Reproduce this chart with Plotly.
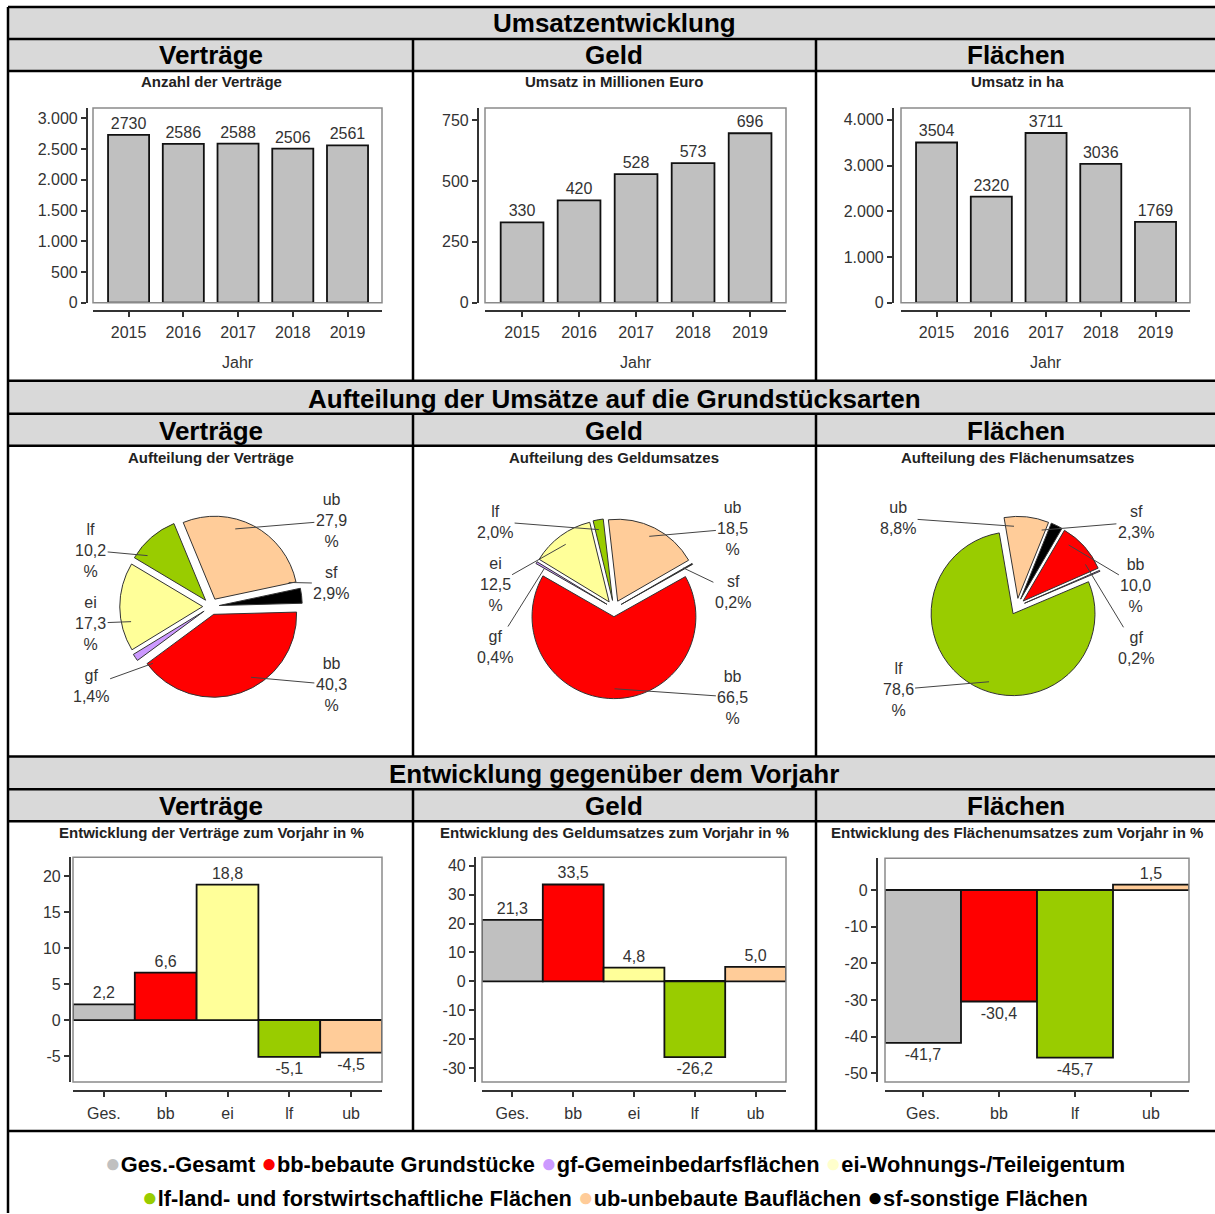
import math
import plotly.graph_objects as go

W = 1215
H = 1214          # reference coordinate height
HP = 1222         # page height (screenshot squeezes vertically by ~H/HP)
SY = HP / H
FONT = "Liberation Sans, Arial, sans-serif"

# ---------------- data ----------------
years = ["2015", "2016", "2017", "2018", "2019"]
vertraege = [2730, 2586, 2588, 2506, 2561]
geld = [330, 420, 528, 573, 696]
flaechen = [3504, 2320, 3711, 3036, 1769]

ticks_vertraege = [0, 500, 1000, 1500, 2000, 2500, 3000]
ticks_geld = [0, 250, 500, 750]
ticks_flaechen = [0, 1000, 2000, 3000, 4000]

pie_labels_v = ["sf", "ub", "lf", "ei", "gf", "bb"]
pie_values_v = [2.9, 27.9, 10.2, 17.3, 1.4, 40.3]
pie_labels_g = ["sf", "ub", "lf", "ei", "gf", "bb"]
pie_values_g = [0.2, 18.5, 2.0, 12.5, 0.4, 66.5]
pie_labels_f = ["sf", "ub", "lf", "gf", "bb"]
pie_values_f = [2.3, 8.8, 78.6, 0.2, 10.0]

chg_cats_v = ["Ges.", "bb", "ei", "lf", "ub"]
chg_v = [2.2, 6.6, 18.8, -5.1, -4.5]
chg_cats_g = ["Ges.", "bb", "ei", "lf", "ub"]
chg_g = [21.3, 33.5, 4.8, -26.2, 5.0]
chg_cats_f = ["Ges.", "bb", "lf", "ub"]
chg_f = [-41.7, -30.4, -45.7, 1.5]

ticks_chg_v = [-5, 0, 5, 10, 15, 20]
ticks_chg_g = [-30, -20, -10, 0, 10, 20, 30, 40]
ticks_chg_f = [-50, -40, -30, -20, -10, 0]

colors = {"Ges.": "#c0c0c0", "bb": "#ff0000", "gf": "#cc99ff", "ei": "#ffff99",
          "lf": "#99cc00", "ub": "#ffcc99", "sf": "#000000"}
legend_row1 = [("Ges.", "Ges.-Gesamt"), ("bb", "bb-bebaute Grundstücke"),
               ("gf", "gf-Gemeinbedarfsflächen"), ("ei", "ei-Wohnungs-/Teileigentum")]
legend_row2 = [("lf", "lf-land- und forstwirtschaftliche Flächen"),
               ("ub", "ub-unbebaute Bauflächen"), ("sf", "sf-sonstige Flächen")]
legend_dot = dict(colors, ei="#ffffcc")

# ---------------- helpers ----------------
def fx(x):
    return x / W


def fy(y):
    return 1 - y / H


def de(v):
    return f"{v:.1f}".replace(".", ",")


fig = go.Figure()
annotations = []
shapes = []
axis_n = [0]


def add_bars(cats, vals, texts, box, y_axis_x, x_axis_y, yrange, xrange,
             yticks, ytext, width, zeroline, cols, standoff):
    axis_n[0] += 1
    n = axis_n[0]
    xa = "x" if n == 1 else f"x{n}"
    ya = "y" if n == 1 else f"y{n}"
    fig.add_trace(go.Bar(
        x=cats, y=vals, text=texts, textposition="outside", cliponaxis=False,
        constraintext="none", textfont=dict(size=16, color="#333", family=FONT),
        marker=dict(color=cols, line=dict(color="#111", width=1.8)),
        width=width, xaxis=xa, yaxis=ya, hoverinfo="skip"))
    x0, y0, x1, y1 = box
    xname = "xaxis" if n == 1 else f"xaxis{n}"
    yname = "yaxis" if n == 1 else f"yaxis{n}"
    fig.update_layout({
        xname: dict(domain=[fx(x0), fx(x1)], anchor="free", position=fy(x_axis_y),
                    range=xrange, type="category", showline=True, linecolor="#333",
                    linewidth=2.2, ticks="outside", ticklen=5, tickwidth=2,
                    tickcolor="#333", tickfont=dict(size=16, color="#333", family=FONT),
                    showgrid=False, zeroline=False, fixedrange=True,
                    ticklabelstandoff=standoff),
        yname: dict(domain=[fy(y1), fy(y0)], anchor="free", position=fx(y_axis_x),
                    range=yrange, tickvals=yticks, ticktext=ytext, showline=True,
                    linecolor="#333", linewidth=2.2, ticks="outside", ticklen=5,
                    tickwidth=2, tickcolor="#333",
                    tickfont=dict(size=16, color="#333", family=FONT),
                    showgrid=False, zeroline=zeroline, zerolinecolor="#111",
                    zerolinewidth=1.8, fixedrange=True),
    })
    shapes.append(dict(type="rect", xref=f"{xa} domain", yref=f"{ya} domain",
                       x0=0, x1=1, y0=0, y1=1, line=dict(color="#8a8a8a", width=1.5),
                       layer="above"))


def add_pie(labels, values, cx, cy, r, pull, rotation):
    s = r * (1 + pull)
    fig.add_trace(go.Pie(
        labels=labels, values=values, sort=False, direction="counterclockwise",
        rotation=rotation, pull=pull, textinfo="none", hoverinfo="skip",
        marker=dict(colors=[colors[l] for l in labels], line=dict(color="#333", width=1)),
        domain=dict(x=[fx(cx - s), fx(cx + s)], y=[fy(cy + s), fy(cy - s)])))
    theta0 = 90 - rotation
    tot = sum(values)
    d = pull * r
    items = []
    cum = 0
    for lab, v in zip(labels, values):
        a0 = theta0 + 360 * cum / tot
        cum += v
        a1 = theta0 + 360 * cum / tot
        am = math.radians((a0 + a1) / 2)
        c, sn = math.cos(am), math.sin(am)
        hx = cx + (d + 0.88 * r) * c
        hy = cy - (d + 0.88 * r) * sn
        side = 1 if c >= 0 else -1
        big = v >= 10
        txt = f"{lab}<br>{de(v)}<br>%" if big else f"{lab}<br>{de(v)}%"
        items.append(dict(hx=hx, hy=hy, lx=cx + side * 1.45 * r, ly=cy - 1.08 * r * sn,
                          side=side, n=3 if big else 2, txt=txt))
    for side in (1, -1):
        grp = sorted([it for it in items if it["side"] == side], key=lambda it: it["ly"])
        for i in range(1, len(grp)):
            need = (grp[i - 1]["n"] + grp[i]["n"]) * 17 / 2 + 20
            if grp[i]["ly"] < grp[i - 1]["ly"] + need:
                grp[i]["ly"] = grp[i - 1]["ly"] + need
    for it in items:
        annotations.append(dict(
            x=fx(it["hx"]), y=fy(it["hy"]), xref="paper", yref="paper",
            ax=it["lx"] - it["hx"], ay=(it["ly"] - it["hy"]) * SY, text=it["txt"],
            showarrow=True, arrowhead=0, arrowwidth=1, arrowcolor="#444",
            standoff=0, align="center", font=dict(size=16, color="#333", family=FONT)))


def text(x, y, t, size, bold=True, color="#000"):
    annotations.append(dict(x=fx(x), y=fy(y), xref="paper", yref="paper",
                            text=f"<b>{t}</b>" if bold else t, showarrow=False,
                            xanchor="center", yanchor="middle",
                            font=dict(size=size, color=color, family=FONT)))


# ---------------- top bar charts ----------------
top_xrange = [-0.65, 4.63]
add_bars(years, vertraege, [str(v) for v in vertraege], (93, 108, 382, 303), 87, 311,
         [0, 3170], top_xrange, ticks_vertraege,
         [f"{v:,}".replace(",", ".") for v in ticks_vertraege], 0.75, False,
         colors["Ges."], 2)
add_bars(years, geld, [str(v) for v in geld], (485, 108, 786, 303), 478, 311,
         [0, 800], top_xrange, ticks_geld,
         [f"{v:,}".replace(",", ".") for v in ticks_geld], 0.75, False, colors["Ges."], 2)
add_bars(years, flaechen, [str(v) for v in flaechen], (901, 108, 1190, 303), 893, 311,
         [0, 4260], top_xrange, ticks_flaechen,
         [f"{v:,}".replace(",", ".") for v in ticks_flaechen], 0.75, False,
         colors["Ges."], 2)

# ---------------- bottom bar charts ----------------
add_bars(chg_cats_v, chg_v, [de(v) for v in chg_v], (73, 858, 382, 1083), 70, 1092,
         [-8.6, 22.6], [-0.5, 4.5], ticks_chg_v, [str(v) for v in ticks_chg_v], 1.0,
         True, [colors[c] for c in chg_cats_v], 3)
add_bars(chg_cats_g, chg_g, [de(v) for v in chg_g], (482, 858, 786, 1083), 475, 1092,
         [-34.8, 42.9], [-0.5, 4.5], ticks_chg_g, [str(v) for v in ticks_chg_g], 1.0,
         True, [colors[c] for c in chg_cats_g], 3)
add_bars(chg_cats_f, chg_f, [de(v) for v in chg_f], (885, 859, 1189, 1083), 877, 1092,
         [-52.4, 8.7], [-0.5, 3.5], ticks_chg_f, [str(v) for v in ticks_chg_f], 1.0,
         True, [colors[c] for c in chg_cats_f], 3)

# ---------------- pies ----------------
add_pie(pie_labels_v, pie_values_v, 211, 607, 83, 0.1, 78)
add_pie(pie_labels_g, pie_values_g, 614, 609, 82, 0.1, 60)
add_pie(pie_labels_f, pie_values_f, 1017, 607, 82, 0.1, 22)

# ---------------- table frame ----------------
for (ya, yb) in [(7, 39), (39, 71), (381, 414), (414, 446), (757, 790), (790, 822)]:
    shapes.append(dict(type="rect", xref="paper", yref="paper", x0=fx(8), x1=1.0,
                       y0=fy(yb), y1=fy(ya), fillcolor="#d9d9d9", line=dict(width=0),
                       layer="below"))
for yl in [7, 39, 71, 381, 414, 446, 757, 790, 822, 1132]:
    shapes.append(dict(type="line", xref="paper", yref="paper", x0=fx(8), x1=1.0,
                       y0=fy(yl), y1=fy(yl), line=dict(color="#000", width=2.5)))
shapes.append(dict(type="line", xref="paper", yref="paper", x0=fx(8), x1=fx(8),
                   y0=fy(7), y1=0, line=dict(color="#000", width=2.5)))
for xl in [413, 816]:
    for (ya, yb) in [(39, 381), (414, 757), (790, 1132)]:
        shapes.append(dict(type="line", xref="paper", yref="paper", x0=fx(xl), x1=fx(xl),
                           y0=fy(yb), y1=fy(ya), line=dict(color="#000", width=2.5)))

cols_c = [211, 614, 1016]
text(614, 23, "Umsatzentwicklung", 26)
text(614, 399, "Aufteilung der Umsätze auf die Grundstücksarten", 26)
text(614, 775, "Entwicklung gegenüber dem Vorjahr", 26)
for yy in (55, 431, 807):
    for cx, t in zip(cols_c, ["Verträge", "Geld", "Flächen"]):
        text(cx, yy, t, 26)

text(211, 82, "Anzahl der Verträge", 15, color="#222")
text(614, 82, "Umsatz in Millionen Euro", 15, color="#222")
text(1017, 82, "Umsatz in ha", 15, color="#222")
text(211, 458, "Aufteilung der Verträge", 15, color="#222")
text(614, 458, "Aufteilung des Geldumsatzes", 15, color="#222")
text(1017, 458, "Aufteilung des Flächenumsatzes", 15, color="#222")
text(211, 833, "Entwicklung der Verträge zum Vorjahr in %", 15, color="#222")
text(614, 833, "Entwicklung des Geldumsatzes zum Vorjahr in %", 15, color="#222")
text(1017, 833, "Entwicklung des Flächenumsatzes zum Vorjahr in %", 15, color="#222")

for cx in (237.5, 635.5, 1045.5):
    text(cx, 363, "Jahr", 16, bold=False, color="#333")


def legend_line(entries):
    return " ".join(
        f"<span style='color:{legend_dot[k]};font-size:26px'>●</span>{name}"
        for k, name in entries)


text(615, 1164, legend_line(legend_row1), 21.8)
text(615, 1198, legend_line(legend_row2), 21.8)

fig.update_layout(width=W, height=HP, margin=dict(l=0, r=0, t=0, b=0),
                  paper_bgcolor="white", plot_bgcolor="rgba(0,0,0,0)",
                  showlegend=False, annotations=annotations, shapes=shapes,
                  font=dict(family=FONT))
fig.write_html("out.html", config={"displayModeBar": False},
               post_script="document.body.style.margin='0px';"
                           "document.body.style.overflow='hidden';")
